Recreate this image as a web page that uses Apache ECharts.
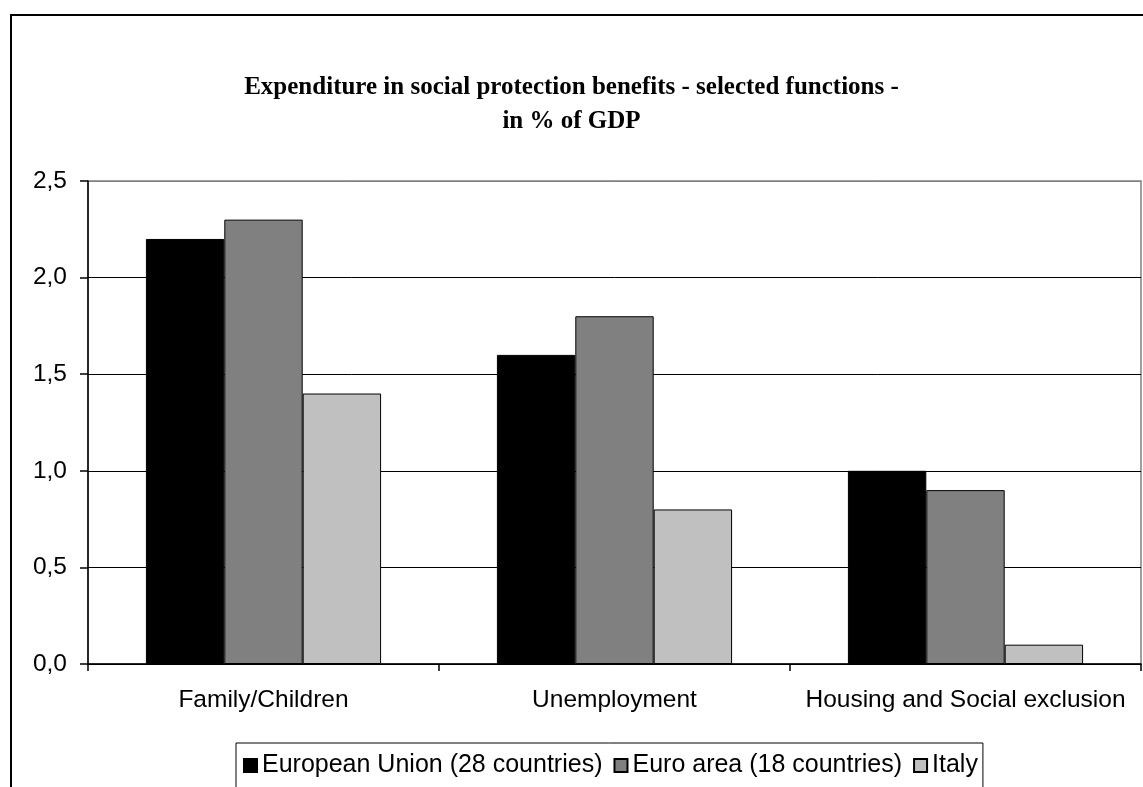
<!DOCTYPE html>
<html>
<head>
<meta charset="utf-8">
<script src="https://cdn.jsdelivr.net/npm/echarts@6/dist/echarts.min.js"></script>
<style>html,body{margin:0;padding:0;background:#fff;}#c{width:1143px;height:787px;}</style>
</head>
<body>
<div id="c"></div>
<script>
var titleText = "Expenditure in social protection benefits - selected functions -\nin % of GDP";
var categories = ["Family/Children", "Unemployment", "Housing and Social exclusion"];
var seriesNames = ["European Union (28 countries)", "Euro area (18 countries)", "Italy"];
var euValues = [2.2, 1.6, 1.0];
var euroAreaValues = [2.3, 1.8, 0.9];
var italyValues = [1.4, 0.8, 0.1];
var seriesColors = ["#000000", "#808080", "#c0c0c0"];
var yMin = 0, yMax = 2.5, yInterval = 0.5;

var chart = echarts.init(document.getElementById('c'), null, {renderer: 'canvas'});
var dataSets = [euValues, euroAreaValues, italyValues];
var series = dataSets.map(function (d, i) {
  return {
    name: seriesNames[i],
    type: 'bar',
    data: d,
    barGap: '0%',
    barCategoryGap: '33%',
    itemStyle: {color: seriesColors[i], borderColor: '#000', borderWidth: 1},
    emphasis: {disabled: true},
    animation: false
  };
});
chart.setOption({
  animation: false,
  backgroundColor: '#fff',
  title: {
    text: titleText,
    left: 'center',
    top: 66,
    textStyle: {fontFamily: 'Liberation Serif', fontWeight: 'bold', fontSize: 25, lineHeight: 34, color: '#000'}
  },
  graphic: [{
    type: 'rect',
    shape: {x: 11, y: 15, width: 1200, height: 900},
    style: {fill: 'none', stroke: '#000', lineWidth: 2},
    silent: true
  }],
  legend: {
    data: seriesNames,
    left: 236,
    top: 743,
    padding: [10, 5, 14, 7],
    borderColor: '#000',
    borderWidth: 1,
    itemGap: 11,
    itemWidth: 13,
    itemHeight: 13,
    icon: 'rect',
    textStyle: {fontFamily: 'Liberation Sans', fontSize: 25, color: '#000'}
  },
  grid: {
    left: 88, top: 181, width: 1053, height: 483,
    show: true, borderColor: '#808080', borderWidth: 1.5, backgroundColor: 'transparent'
  },
  xAxis: {
    type: 'category',
    data: categories,
    axisLine: {lineStyle: {color: '#000', width: 1.5}},
    axisTick: {show: true, interval: 0, length: 7, lineStyle: {color: '#000', width: 1.5}},
    axisLabel: {interval: 0, hideOverlap: false, fontFamily: 'Liberation Sans', fontSize: 24.5, color: '#000', margin: 24}
  },
  yAxis: {
    type: 'value',
    min: yMin, max: yMax, interval: yInterval,
    axisLine: {show: true, lineStyle: {color: '#000', width: 1.5}},
    axisTick: {show: true, length: 8, lineStyle: {color: '#000', width: 1.5}},
    axisLabel: {fontFamily: 'Liberation Sans', fontSize: 24.5, color: '#000', margin: 21,
      formatter: function (v) { return v.toFixed(1).replace('.', ','); }},
    splitLine: {show: true, lineStyle: {color: ['#000', '#000', '#000', '#000', '#000', '#808080'], width: 1}}
  },
  series: series
});
</script>
</body>
</html>
